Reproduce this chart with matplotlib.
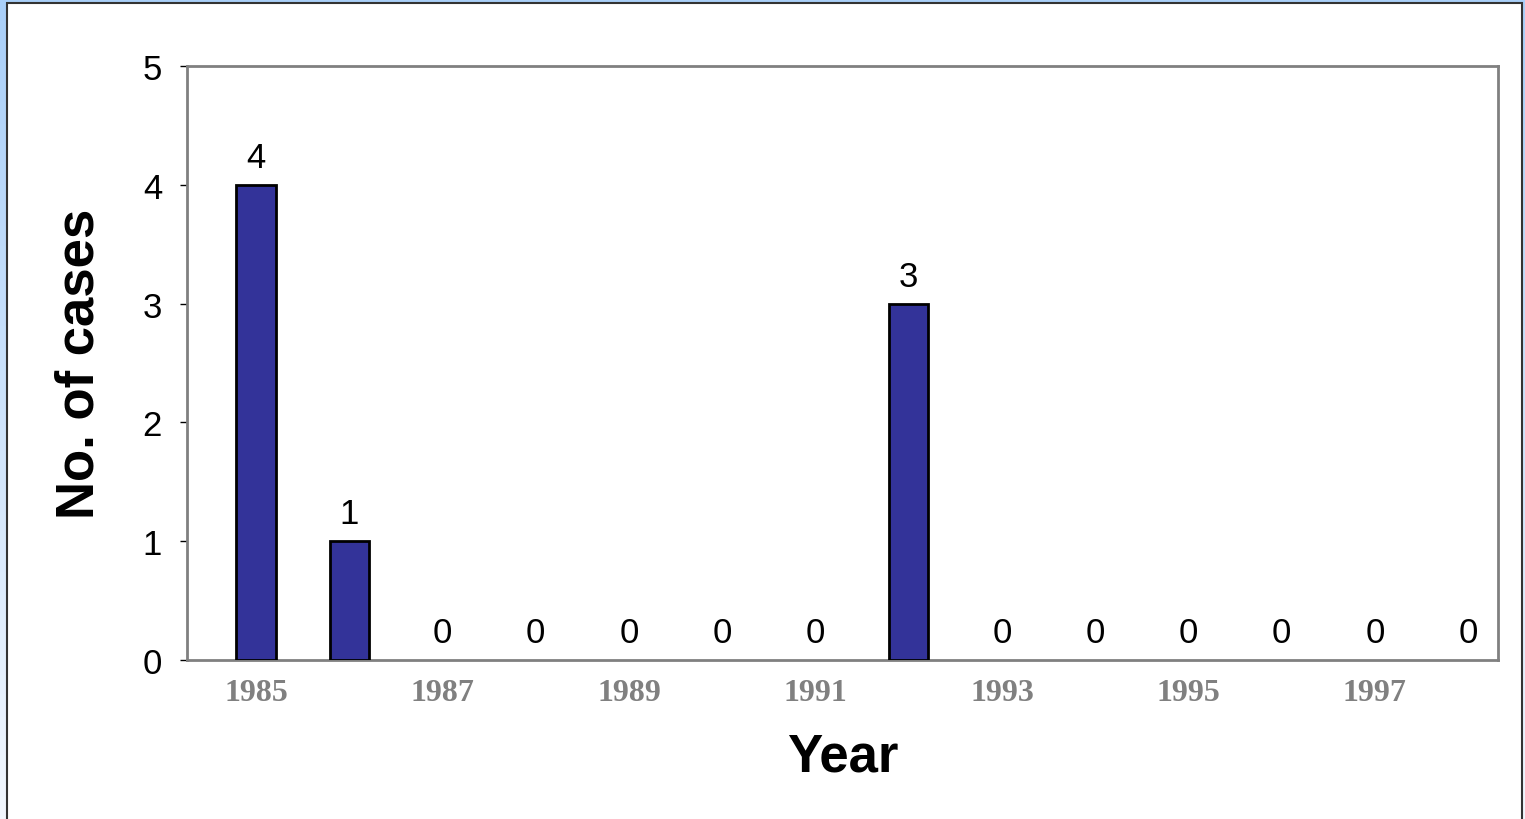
import matplotlib
matplotlib.use("Agg")
import matplotlib.pyplot as plt
import numpy as np
from matplotlib.patches import Rectangle

# ── Data ──────────────────────────────────────────────────────────────────────
years = [1985, 1986, 1987, 1988, 1989, 1990, 1991,
         1992, 1993, 1994, 1995, 1996, 1997, 1998]
cases = [4, 1, 0, 0, 0, 0, 0, 3, 0, 0, 0, 0, 0, 0]
tick_years = [1985, 1987, 1989, 1991, 1993, 1995, 1997]

BAR_COLOR = "#333399"
SPINE_GRAY = "#808080"

plt.rcParams["font.family"] = ["Liberation Sans", "DejaVu Sans"]

fig = plt.figure(figsize=(15.25, 8.2), dpi=100)

# slide-like background: blue gradient with a white panel on top
bg = fig.add_axes([0, 0, 1, 1], zorder=-10)
grad = np.linspace(0, 1, 256).reshape(-1, 1)
bg.imshow(grad, aspect="auto", extent=[0, 1, 0, 1],
          cmap=matplotlib.colors.LinearSegmentedColormap.from_list(
              "bgblue", ["#f2f7fe", "#a9cff8"]), origin="lower")
bg.add_patch(Rectangle((7 / 1525, -0.01), 1515 / 1525, 1.01 - 4 / 820,
                       facecolor="white", edgecolor="#333333", linewidth=1.5))
bg.set_xlim(0, 1)
bg.set_ylim(0, 1)
bg.axis("off")

ax = fig.add_axes([187 / 1525, 1 - 661 / 820, 1311 / 1525, 594 / 820])
x = np.arange(len(years))
vals = np.array(cases, dtype=float)
nz = vals > 0  # zero-height bars leave no outline in the original
ax.bar(x[nz], vals[nz], width=0.42, color=BAR_COLOR, edgecolor="black",
       linewidth=2, zorder=3)

for xi, v in zip(x, cases):
    ax.annotate(f"{v}", (xi, v), xytext=(0, 13), textcoords="offset points",
                ha="center", va="baseline", fontsize=25, color="black")

ax.set_xlim(-0.74, len(years) - 1 + 0.32)
ax.set_ylim(0, 5)
ax.set_yticks(range(0, 6))
ax.tick_params(axis="y", direction="out", length=5, width=1, color="black",
               labelsize=25, pad=13)
ax.set_xticks([years.index(y) for y in tick_years])
ax.set_xticklabels([str(y) for y in tick_years], fontfamily="Liberation Serif",
                   fontweight="bold", color=SPINE_GRAY, fontsize=23)
ax.tick_params(axis="x", length=0, pad=13)

for side in ["left", "right", "top", "bottom"]:
    ax.spines[side].set_color(SPINE_GRAY)
    ax.spines[side].set_linewidth(2)

ax.set_ylabel("No. of cases", fontsize=38, fontweight="bold")
ax.yaxis.set_label_coords(-(187 - 80) / 1311, 0.5)
ax.set_xlabel("Year", fontsize=38, fontweight="bold")
ax.xaxis.set_label_coords(0.5, -(757 - 661) / 594)
ax.xaxis.label.set_va("center")
ax.yaxis.label.set_va("center")

fig.savefig("out.png", dpi=100)
